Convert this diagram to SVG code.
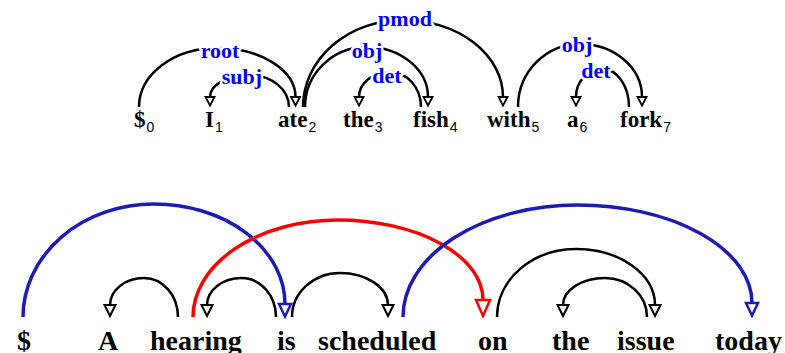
<svg xmlns="http://www.w3.org/2000/svg" width="785" height="353" viewBox="0 0 785 353">
<style>
.w{font-weight:bold;font-size:23px;fill:#000}
.sub{font-weight:normal;font-size:14px}
.W{font-weight:bold;font-size:28px;fill:#000}
.lbl{font-weight:bold;font-size:22px;fill:#0000ff;text-anchor:middle;stroke:#fff;stroke-width:5;paint-order:stroke;stroke-linejoin:round}
.a{fill:none;stroke:#000;stroke-width:2.5}
.ab{fill:none;stroke:#000;stroke-width:2.5}
.blue{fill:none;stroke:#1c1cb4;stroke-width:3.5}
.red{fill:none;stroke:#ff0000;stroke-width:3.5}
</style>
<defs>
<marker id="ms" markerUnits="userSpaceOnUse" orient="auto" markerWidth="20" markerHeight="20" refX="0" refY="0" overflow="visible"><path d="M0,-4.5 L8.5,0 L0,4.5 Z" fill="#fff" stroke="#000" stroke-width="1.8"/></marker>
<marker id="mk" markerUnits="userSpaceOnUse" orient="auto" markerWidth="20" markerHeight="20" refX="0" refY="0" overflow="visible"><path d="M0,-5.5 L11,0 L0,5.5 Z" fill="#fff" stroke="#000" stroke-width="2"/></marker>
<marker id="mb" markerUnits="userSpaceOnUse" orient="auto" markerWidth="20" markerHeight="20" refX="0" refY="0" overflow="visible"><path d="M0,-6 L12.5,0 L0,6 Z" fill="#fff" stroke="#1c1cb4" stroke-width="2.5"/></marker>
<marker id="mr" markerUnits="userSpaceOnUse" orient="auto" markerWidth="24" markerHeight="24" refX="0" refY="0" overflow="visible"><path d="M0,-7 L16,0 L0,7 Z" fill="#fff" stroke="#ff0000" stroke-width="2.5"/></marker>
</defs>
<rect width="785" height="353" fill="#fff"/>

<g id="connectors">
<path class="a" marker-end="url(#ms)" d="M139,107 A78,59 0 0 1 217,48 A78.5,49 0 0 1 295.5,97"/>
<path class="a" marker-end="url(#ms)" d="M289,107 A39.5,32 0 0 0 249.5,75 A39.5,22 0 0 0 210,97"/>
<path class="a" marker-end="url(#ms)" d="M303,107 A100,87 0 0 1 403,20 A100,77 0 0 1 503,97"/>
<path class="a" marker-end="url(#ms)" d="M305,107 A61.5,60 0 0 1 366.5,47 A61.5,50 0 0 1 428,97"/>
<path class="a" marker-end="url(#ms)" d="M421,107 A31,35 0 0 0 390,72 A31,25 0 0 0 359,97"/>
<path class="a" marker-end="url(#ms)" d="M518,107 A62,63 0 0 1 580,44 A62,53 0 0 1 642,97"/>
<path class="a" marker-end="url(#ms)" d="M629,107 A26.5,38 0 0 0 602.5,69 A26.5,28 0 0 0 576,97"/>

<path class="ab" marker-end="url(#mk)" d="M178,317 A34,39 0 0 0 144,278 A34,27 0 0 0 110,305"/>
<path class="ab" marker-end="url(#mk)" d="M276,317 A34.5,39 0 0 0 241.5,278 A34.5,27 0 0 0 207,305"/>
<path class="ab" marker-end="url(#mk)" d="M292,317 A48,44 0 0 1 340,273 A48,32 0 0 1 388,305"/>
<path class="ab" marker-end="url(#mk)" d="M497,317 A79,68 0 0 1 576,249 A79,56 0 0 1 655,305"/>
<path class="ab" marker-end="url(#mk)" d="M647,317 A42,39 0 0 0 605,278 A42,27 0 0 0 563,305"/>
<path class="blue" marker-end="url(#mb)" d="M23,317 A131,113 0 0 1 154,204 A131,100 0 0 1 285,304"/>
<path class="red" marker-end="url(#mr)" d="M193,317 A145,97 0 0 1 338,220 A145,80 0 0 1 483,300"/>
<path class="blue" marker-end="url(#mb)" d="M403,317 A174.5,112 0 0 1 577.5,205 A174.5,98 0 0 1 752,303"/>
</g>

<g id="labels">
<text class="lbl" font-family="Liberation Serif" x="220" y="58">root</text>
<text class="lbl" font-family="Liberation Serif" x="242" y="84">subj</text>
<text class="lbl" font-family="Liberation Serif" x="405" y="26">pmod</text>
<text class="lbl" font-family="Liberation Serif" x="367" y="58">obj</text>
<text class="lbl" font-family="Liberation Serif" x="387" y="83">det</text>
<text class="lbl" font-family="Liberation Serif" x="577" y="52">obj</text>
<text class="lbl" font-family="Liberation Serif" x="596" y="78">det</text>
</g>

<g id="n0"><text class="w" font-family="Liberation Serif" x="134" y="127">$<tspan class="sub" font-family="Liberation Sans" dx="1" dy="5">0</tspan></text></g>
<g id="n1"><text class="w" font-family="Liberation Serif" x="205" y="127">I<tspan class="sub" font-family="Liberation Sans" dx="1" dy="5">1</tspan></text></g>
<g id="n2"><text class="w" font-family="Liberation Serif" x="278" y="127">ate<tspan class="sub" font-family="Liberation Sans" dx="1" dy="5">2</tspan></text></g>
<g id="n3"><text class="w" font-family="Liberation Serif" x="343" y="127">the<tspan class="sub" font-family="Liberation Sans" dx="1" dy="5">3</tspan></text></g>
<g id="n4"><text class="w" font-family="Liberation Serif" x="413" y="127">fish<tspan class="sub" font-family="Liberation Sans" dx="1" dy="5">4</tspan></text></g>
<g id="n5"><text class="w" font-family="Liberation Serif" x="487" y="127">with<tspan class="sub" font-family="Liberation Sans" dx="1" dy="5">5</tspan></text></g>
<g id="n6"><text class="w" font-family="Liberation Serif" x="567" y="127">a<tspan class="sub" font-family="Liberation Sans" dx="1" dy="5">6</tspan></text></g>
<g id="n7"><text class="w" font-family="Liberation Serif" x="620" y="127">fork<tspan class="sub" font-family="Liberation Sans" dx="1" dy="5">7</tspan></text></g>

<g id="m0"><text class="W" font-family="Liberation Serif" x="17" y="350">$</text></g>
<g id="m1"><text class="W" font-family="Liberation Serif" x="98" y="350">A</text></g>
<g id="m2"><text class="W" font-family="Liberation Serif" x="150" y="350">hearing</text></g>
<g id="m3"><text class="W" font-family="Liberation Serif" x="277" y="350">is</text></g>
<g id="m4"><text class="W" font-family="Liberation Serif" x="318" y="350">scheduled</text></g>
<g id="m5"><text class="W" font-family="Liberation Serif" x="478" y="350">on</text></g>
<g id="m6"><text class="W" font-family="Liberation Serif" x="552" y="350">the</text></g>
<g id="m7"><text class="W" font-family="Liberation Serif" x="617" y="350">issue</text></g>
<g id="m8"><text class="W" font-family="Liberation Serif" x="715" y="350">today</text></g>
</svg>
